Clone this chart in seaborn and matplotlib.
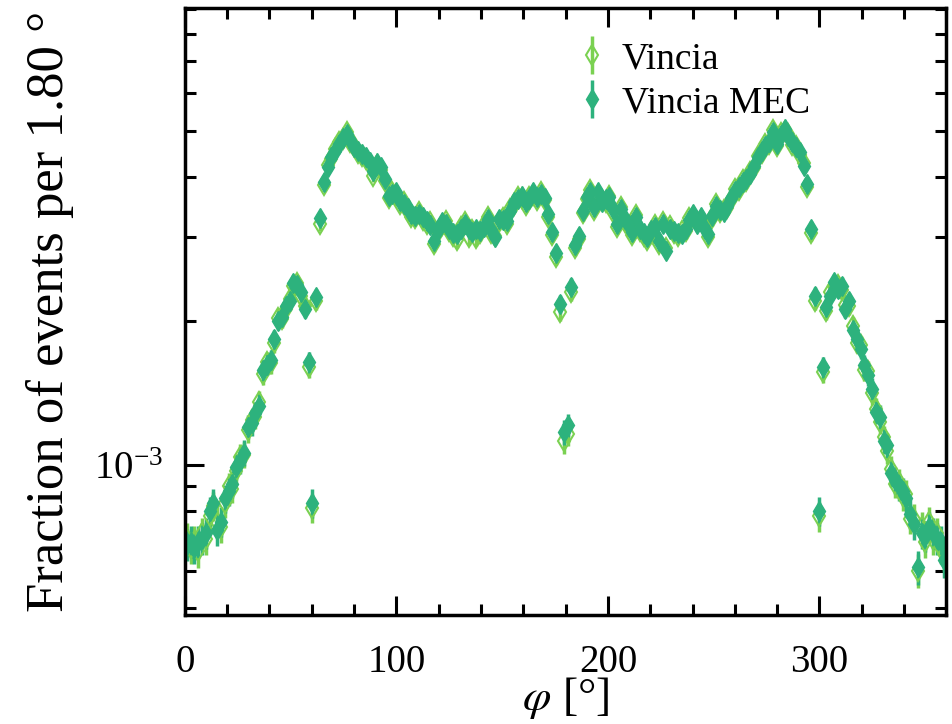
import numpy as np
import matplotlib
matplotlib.use('Agg')
import matplotlib.pyplot as plt
from matplotlib.ticker import MultipleLocator, LogLocator, NullFormatter
import seaborn as sns

# Fracción de eventos por bin de 1.8 grados (unidades de 1e-3)
vincia = [
    0.70, 0.67, 0.69, 0.66, 0.72, 0.70, 0.78, 0.82, 0.76, 0.74,
    0.83, 0.90, 0.89, 0.97, 1.04, 1.05, 1.18, 1.24, 1.26, 1.35,
    1.55, 1.64, 1.63, 1.80, 2.03, 2.02, 2.12, 2.22, 2.37, 2.40,
    2.26, 2.15, 1.60, 0.81, 2.20, 3.20, 3.86, 4.25, 4.36, 4.58,
    4.74, 4.80, 4.97, 4.75, 4.65, 4.50, 4.43, 4.36, 4.25, 4.03,
    4.25, 4.15, 3.92, 3.62, 3.73, 3.68, 3.52, 3.55, 3.40, 3.30,
    3.28, 3.38, 3.26, 3.20, 3.22, 2.90, 3.07, 3.18, 3.24, 3.08,
    3.02, 2.95, 3.15, 3.22, 3.00, 3.10, 2.98, 3.05, 3.18, 3.30,
    3.06, 3.02, 3.22, 3.28, 3.20, 3.43, 3.50, 3.64, 3.62, 3.50,
    3.64, 3.68, 3.58, 3.72, 3.58, 3.30, 3.03, 2.72, 2.09, 1.12,
    1.16, 2.30, 2.84, 2.97, 3.36, 3.60, 3.76, 3.42, 3.68, 3.58,
    3.55, 3.66, 3.39, 3.15, 3.46, 3.23, 3.16, 3.03, 3.34, 3.08,
    3.02, 2.96, 3.06, 3.18, 2.90, 3.22, 2.84, 3.16, 3.05, 3.02,
    3.08, 3.08, 3.28, 3.30, 3.22, 3.26, 3.15, 3.00, 3.28, 3.52,
    3.38, 3.42, 3.45, 3.58, 3.78, 3.76, 3.94, 3.92, 4.10, 4.18,
    4.44, 4.50, 4.70, 4.70, 5.02, 4.64, 4.94, 5.00, 4.92, 4.68,
    4.66, 4.46, 4.28, 3.82, 3.05, 2.20, 0.78, 1.56, 2.10, 2.30,
    2.37, 2.38, 2.32, 2.16, 2.15, 1.95, 1.80, 1.78, 1.58, 1.57,
    1.41, 1.31, 1.23, 1.14, 1.07, 0.98, 0.91, 0.92, 0.86, 0.87,
    0.77, 0.77, 0.60, 0.74, 0.69, 0.76, 0.70, 0.72, 0.67, 0.65,
]

vincia_mec = [
    0.68, 0.69, 0.67, 0.69, 0.70, 0.72, 0.80, 0.83, 0.73, 0.76,
    0.85, 0.88, 0.91, 0.99, 1.02, 1.06, 1.20, 1.22, 1.28, 1.33,
    1.58, 1.62, 1.66, 1.83, 2.00, 2.04, 2.15, 2.20, 2.40, 2.38,
    2.30, 2.12, 1.64, 0.83, 2.24, 3.28, 3.90, 4.20, 4.40, 4.55,
    4.70, 4.84, 4.93, 4.78, 4.62, 4.55, 4.47, 4.40, 4.30, 4.12,
    4.29, 4.20, 3.97, 3.66, 3.69, 3.72, 3.57, 3.52, 3.45, 3.35,
    3.32, 3.35, 3.30, 3.24, 3.18, 2.94, 3.10, 3.22, 3.20, 3.12,
    3.06, 3.04, 3.12, 3.19, 3.12, 3.07, 3.12, 3.09, 3.15, 3.27,
    3.10, 3.00, 3.27, 3.25, 3.24, 3.40, 3.55, 3.60, 3.66, 3.55,
    3.60, 3.72, 3.63, 3.69, 3.62, 3.35, 3.07, 2.77, 2.17, 1.17,
    1.21, 2.36, 2.88, 3.02, 3.40, 3.63, 3.72, 3.46, 3.72, 3.55,
    3.60, 3.63, 3.43, 3.19, 3.43, 3.27, 3.20, 3.07, 3.30, 3.12,
    3.05, 3.00, 3.10, 3.15, 2.94, 3.19, 2.80, 3.12, 3.09, 3.06,
    3.04, 3.12, 3.25, 3.35, 3.19, 3.30, 3.12, 3.04, 3.32, 3.49,
    3.42, 3.38, 3.49, 3.62, 3.74, 3.81, 3.90, 3.97, 4.06, 4.23,
    4.40, 4.55, 4.65, 4.75, 4.97, 4.69, 4.90, 5.04, 4.88, 4.73,
    4.62, 4.51, 4.23, 3.87, 3.12, 2.26, 0.80, 1.60, 2.14, 2.26,
    2.41, 2.33, 2.37, 2.12, 2.20, 1.91, 1.83, 1.75, 1.62, 1.54,
    1.44, 1.29, 1.26, 1.12, 1.10, 0.96, 0.93, 0.90, 0.88, 0.85,
    0.79, 0.75, 0.61, 0.72, 0.71, 0.74, 0.72, 0.70, 0.69, 0.63,
]

bin_width = 1.8
n_events = 250000  # para errores estadísticos (Poisson)

edges = np.arange(0, 360 + bin_width / 2, bin_width)
phi = 0.5 * (edges[:-1] + edges[1:])
y_v = np.array(vincia) * 1e-3
y_m = np.array(vincia_mec) * 1e-3
err_v = np.sqrt(y_v * n_events) / n_events
err_m = np.sqrt(y_m * n_events) / n_events

sns.set_theme(style='ticks')
plt.rcParams['font.family'] = ['Liberation Serif', 'DejaVu Serif']
plt.rcParams['mathtext.fontset'] = 'stix'
plt.rcParams['text.color'] = 'black'
plt.rcParams['axes.labelcolor'] = 'black'
plt.rcParams['xtick.color'] = 'black'
plt.rcParams['ytick.color'] = 'black'

col_v = '#7ad151'
col_m = '#2db27d'

fig, ax = plt.subplots(figsize=(9.53, 7.24), dpi=100)
fig.subplots_adjust(left=0.194, right=0.993, top=0.989, bottom=0.151)

ax.errorbar(phi, y_v, yerr=err_v, fmt='d', ms=10.5, mfc='none', mec=col_v, mew=1.5,
            ecolor=col_v, elinewidth=2.5, capsize=0, label='Vincia')
ax.errorbar(phi, y_m, yerr=err_m, fmt='d', ms=10.5, mfc=col_m, mec=col_m, mew=1,
            ecolor=col_m, elinewidth=2.5, capsize=0, label='Vincia MEC')

ax.set_yscale('log')
ax.set_xlim(0, 360)
ax.set_ylim(4.85e-4, 9.05e-3)
ax.xaxis.set_major_locator(MultipleLocator(100))
ax.xaxis.set_minor_locator(MultipleLocator(20))
ax.yaxis.set_minor_locator(LogLocator(base=10, subs=np.arange(2, 10)))
ax.yaxis.set_minor_formatter(NullFormatter())

ax.tick_params(which='both', direction='in', top=True, right=True, width=2.2,
               labelsize=28)
ax.tick_params(axis='x', which='major', length=14, pad=21)
ax.tick_params(axis='y', which='major', length=14, pad=16)
ax.tick_params(which='minor', length=8)
for s in ax.spines.values():
    s.set_linewidth(2.5)
    s.set_color('black')

ax.set_xlabel(r'$\varphi$ [°]', fontsize=33, labelpad=-4)
ax.set_ylabel('Fraction of events per 1.80 °', fontsize=38, labelpad=14)

ax.legend(loc='upper left', bbox_to_anchor=(0.47, 1.0), frameon=False, fontsize=27,
          handlelength=0.8, handletextpad=0.4, labelspacing=0.25)

plt.savefig('out.png', dpi=100)
